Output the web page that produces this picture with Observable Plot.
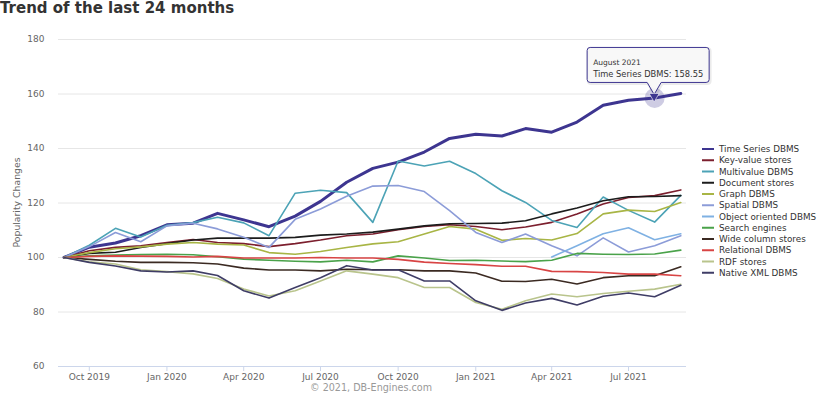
<!DOCTYPE html>
<html><head><meta charset="utf-8">
<script src="https://cdn.jsdelivr.net/npm/d3@7"></script>
<script src="https://cdn.jsdelivr.net/npm/@observablehq/plot@0.6"></script>
<style>
body{margin:0;background:#fff;font-family:"DejaVu Sans",sans-serif;}
#wrap{position:relative;width:821px;height:394px;overflow:hidden;}
#wrap svg{position:absolute;left:0;top:0;}
#title{position:absolute;left:0;top:0px;font:bold 15px "DejaVu Sans",sans-serif;line-height:16px;color:#333;z-index:2;white-space:nowrap;}
</style></head><body>
<div id="wrap"><div id="title">Trend of the last 24 months</div></div>
<script>
const titleText = "Trend of the last 24 months";
const yAxisTitle = "Popularity Changes";
const creditText = "\u00a9 2021, DB-Engines.com";
const months = ["2019-09","2019-10","2019-11","2019-12","2020-01","2020-02","2020-03","2020-04","2020-05","2020-06","2020-07","2020-08","2020-09","2020-10","2020-11","2020-12","2021-01","2021-02","2021-03","2021-04","2021-05","2021-06","2021-07","2021-08","2021-09"];
const xTickMonths = ["2019-10","2020-01","2020-04","2020-07","2020-10","2021-01","2021-04","2021-07"];
const yTicks = [60, 80, 100, 120, 140, 160, 180];

const seriesNames = ["Time Series DBMS","Key-value stores","Multivalue DBMS","Document stores","Graph DBMS","Spatial DBMS","Object oriented DBMS","Search engines","Wide column stores","Relational DBMS","RDF stores","Native XML DBMS"];
const seriesColors = ["#3d3590","#7c1f2e","#4ca3b6","#1c1c1c","#a8b545","#8c9cd8","#7fb1e3","#4aa24a","#3b2a22","#d84444","#b9c48c","#3f3d66"];

const timeSeries     = [100,103.8,105.3,108,112,112.6,116.2,113.8,111.3,115.2,120.6,127.6,132.7,135,138.7,143.7,145.2,144.6,147.3,146,149.7,155.9,157.7,158.55,160.2];
const keyValue       = [100,102.5,103.7,104.3,105.5,106.6,105.5,105.1,104,105.1,106.4,108,108.6,110.2,111.4,112,111.4,110.2,111.2,112.9,116,119.6,122,122.7,124.8];
const multivalue     = [100,104.5,110.7,107.5,111.8,112.8,114.8,112.7,108,123.6,124.7,123.8,112.9,135.4,133.6,135.3,130.8,124.5,120.2,113.6,111,122.2,117.3,113,122.8];
const documentStores = [100,101.5,101.9,103.7,105.1,106.4,107.1,107.1,107.1,107.4,108.2,108.6,109.3,110.4,111.6,112.4,112.5,112.6,113.5,116,118.2,120.8,122.3,122.4,122.7];
const graph          = [100,101.8,103.2,103.9,104.9,105.5,104.9,104.6,101.8,101.2,102.2,103.7,105,105.8,108.6,111.4,110.4,106.3,107,106.4,108.8,116,117.4,116.9,120.2];
const spatial        = [100,104,109.2,105.8,111.6,112.6,110.5,107.4,103.7,114,117.8,122.5,126.2,126.4,124.2,117.2,109.2,105.5,108.6,104.3,100.6,107.2,102,104.3,108];
const objectOriented = [null,null,null,null,null,null,null,null,null,null,null,null,null,null,null,null,null,null,null,100.2,104.3,108.7,110.9,106.5,108.7];
const searchEngines  = [100,100.6,100.9,101.1,101.2,101,100.3,99.4,99,98.6,98.4,99,98.4,100.6,99.8,98.9,99,98.7,98.5,99,101.5,101.2,101.1,101.3,102.7];
const wideColumn     = [100,99.3,98.6,98.2,98.2,98.1,97.6,96.1,95.4,95.4,95.1,95.7,95.5,95.5,95.1,95.1,94.3,91.3,91.2,92,90.3,92.6,93.3,93.3,96.6];
const relational     = [100,100.4,100.6,100.5,100.4,100.2,100.4,99.8,99.8,99.8,100,99.8,99.8,99.3,98.3,97.8,97.4,96.8,96.8,94.9,94.8,94.5,93.9,93.9,93.3];
const rdf            = [100,98.4,97.6,95.5,94.8,94,92.3,88.4,85.9,87.8,91.4,95.1,93.9,92.6,89,89,83.5,81,84.1,86.6,85.6,86.8,87.6,88.4,90.2];
const nativeXml      = [100,98.2,96.9,95.1,94.7,95.1,93.4,87.8,85.1,89,92.6,97,95.4,95.5,91.4,91.4,84.1,80.6,83.3,85,82.6,85.8,87,85.6,89.8];

const seriesValues = [timeSeries,keyValue,multivalue,documentStores,graph,spatial,objectOriented,searchEngines,wideColumn,relational,rdf,nativeXml];

const tooltipSeries = 0, tooltipIndex = 23, tooltipDateLabel = "August 2021";

const toDate = m => new Date(m + "-01T00:00:00Z");
const rows = [];
seriesNames.forEach((name, s) => {
  seriesValues[s].forEach((v, i) => {
    if (v != null) rows.push({series: name, date: toDate(months[i]), value: v});
  });
});
const tsRows = rows.filter(r => r.series === seriesNames[0]);
const otherRows = rows.filter(r => r.series !== seriesNames[0]);
const hoverRow = [{date: toDate(months[tooltipIndex]), value: seriesValues[tooltipSeries][tooltipIndex]}];

const plot = Plot.plot({
  width: 821, height: 394,
  marginTop: 39, marginBottom: 28, marginLeft: 58, marginRight: 135,
  style: {fontFamily: "DejaVu Sans, sans-serif", fontSize: "9px", color: "#666", background: "transparent"},
  x: {type: "utc", domain: [new Date(Date.UTC(2019,7,25,12)), new Date(Date.UTC(2021,8,7,18))]},
  y: {domain: [60, 180]},
  color: {domain: seriesNames, range: seriesColors},
  marks: [
    Plot.gridY(yTicks, {stroke: "#e6e6e6", strokeOpacity: 1}),
    Plot.ruleY([60], {stroke: "#ccd6eb"}),
    Plot.axisY({ticks: yTicks, tickSize: 0, tickPadding: 14, label: null, fill: "#666"}),
    Plot.axisX({ticks: xTickMonths.map(toDate), tickFormat: d3.utcFormat("%b %Y"), tickSize: 5, tickPadding: 2, stroke: "#ccd6eb", fill: "#666", label: null}),
    Plot.line(tsRows, {x: "date", y: "value", z: "series", stroke: "series", strokeWidth: 3}),
    Plot.line(otherRows, {x: "date", y: "value", z: "series", stroke: "series", strokeWidth: 1.6}),
    Plot.dot(hoverRow, {x: "date", y: "value", r: 10, fill: seriesColors[0], fillOpacity: 0.25, stroke: "none"})
  ]
});
document.getElementById("wrap").appendChild(plot);

const svg = d3.select(plot);
const xs = plot.scale("x"), ys = plot.scale("y");

// y axis title
svg.append("text").attr("transform", "translate(17,202.5) rotate(-90)")
  .attr("text-anchor", "middle").attr("dy", "0.35em")
  .attr("fill", "#666").style("font-size", "9.3px").text(yAxisTitle);
// credits
svg.append("text").attr("x", 371).attr("y", 391).attr("text-anchor", "middle")
  .attr("fill", "#999").style("font-size", "9.6px").text(creditText);

// legend
const lg = svg.append("g").attr("text-anchor", "start");
seriesNames.forEach((name, i) => {
  const y = 149 + i * 11.25;
  lg.append("line").attr("x1", 702).attr("x2", 714).attr("y1", y).attr("y2", y)
    .attr("stroke", seriesColors[i]).attr("stroke-width", 2);
  lg.append("text").attr("x", 719).attr("y", y).attr("dy", "0.35em").attr("text-anchor", "start")
    .attr("fill", "#333").style("font-size", "8.8px").text(name);
});

// tooltip
const px = xs.apply(hoverRow[0].date), py = ys.apply(hoverRow[0].value);
const L = px - 67, R = px + 55, T = py - 50, B = py - 15, r = 3;
const tipPath = `M${L+r},${T} H${R-r} Q${R},${T} ${R},${T+r} V${B-r} Q${R},${B} ${R-r},${B} H${px+7} L${px},${py-3} L${px-7},${B} H${L+r} Q${L},${B} ${L},${B-r} V${T+r} Q${L},${T} ${L+r},${T} Z`;
const tg = svg.append("g").attr("text-anchor", "start");
tg.append("path").attr("d", tipPath).attr("transform", "translate(1,1)")
  .attr("fill", "none").attr("stroke", "#000").attr("stroke-opacity", 0.08).attr("stroke-width", 3);
tg.append("path").attr("d", tipPath).attr("fill", "#f7f7f7").attr("fill-opacity", 0.9)
  .attr("stroke", seriesColors[0]).attr("stroke-width", 1);
tg.append("text").attr("x", L + 6).attr("y", T + 18).attr("text-anchor", "start").attr("fill", "#333")
  .style("font-size", "7.5px").text(tooltipDateLabel);
tg.append("text").attr("x", L + 6).attr("y", T + 30).attr("text-anchor", "start").attr("fill", "#333")
  .style("font-size", "8.3px").text(seriesNames[tooltipSeries] + ": " + seriesValues[tooltipSeries][tooltipIndex]);
// marker
const s = 5;
tg.append("path").attr("d", `M${px-s},${py-s*0.8} L${px+s},${py-s*0.8} L${px},${py+s*0.9} Z`)
  .attr("fill", seriesColors[0]).attr("stroke", "#fff").attr("stroke-width", 0.6);
</script>
</body></html>
